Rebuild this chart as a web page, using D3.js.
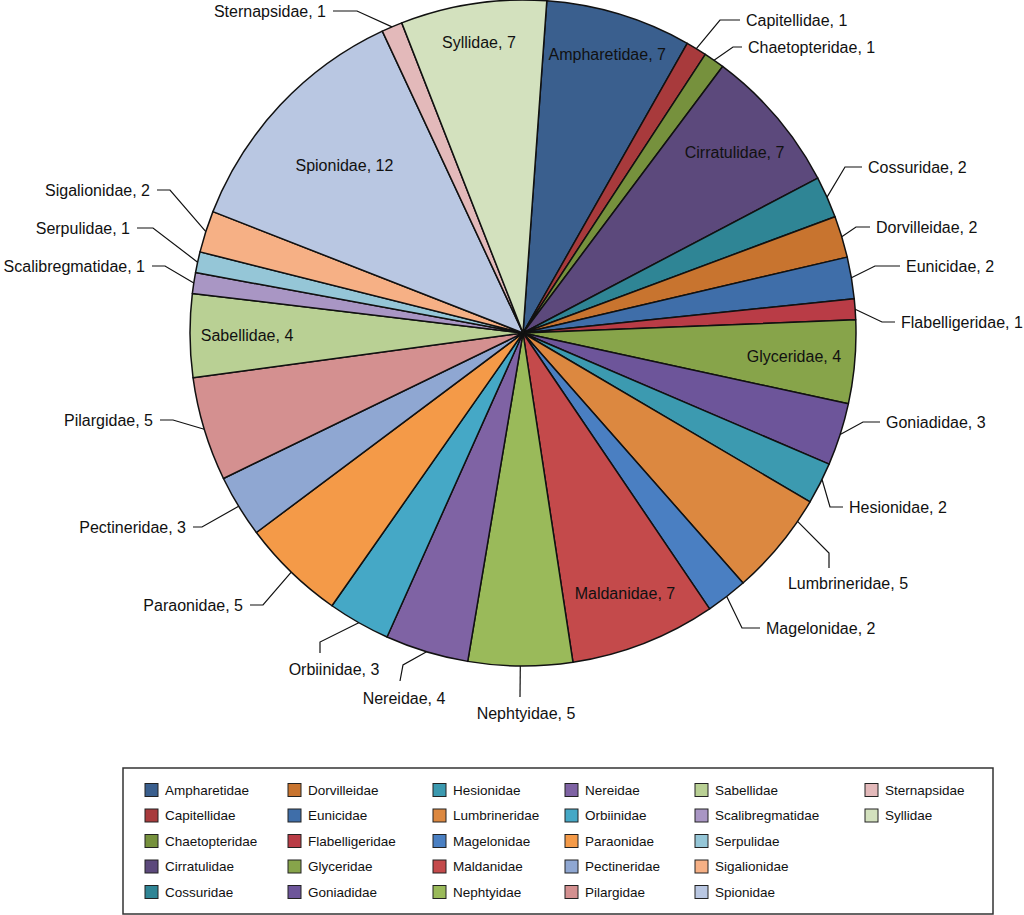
<!DOCTYPE html>
<html>
<head>
<meta charset="utf-8">
<script src="https://cdn.jsdelivr.net/npm/d3@7"></script>
<style>
  html, body { margin: 0; padding: 0; background: #fff; }
  svg { display: block; font-family: "Liberation Sans", Arial, Helvetica, sans-serif; }
</style>
</head>
<body>
<svg id="chart" width="1024" height="915"></svg>
<script>
// ---- Data ----
const families = ["Ampharetidae","Capitellidae","Chaetopteridae","Cirratulidae","Cossuridae",
  "Dorvilleidae","Eunicidae","Flabelligeridae","Glyceridae","Goniadidae",
  "Hesionidae","Lumbrineridae","Magelonidae","Maldanidae","Nephtyidae",
  "Nereidae","Orbiinidae","Paraonidae","Pectineridae","Pilargidae",
  "Sabellidae","Scalibregmatidae","Serpulidae","Sigalionidae","Spionidae",
  "Sternapsidae","Syllidae"];
const counts = [7,1,1,7,2, 2,2,1,4,3, 2,5,2,7,5, 4,3,5,3,5, 4,1,1,2,12, 1,7];
const colors = ["#3a5f8e","#a83a3c","#76913d","#5c497c","#2f8595",
  "#c8742f","#3f6ea9","#b93c46","#87a44a","#6d559a",
  "#3c9ab0","#dc8840","#4a7fc2","#c44a4b","#9aba5a",
  "#7f63a4","#45a8c6","#f49a48","#8fa7d2","#d49090",
  "#b9d094","#a996c4","#95c6d7","#f6b085","#b9c7e2",
  "#e3b9ba","#d3e1be"];

// ---- Layout (annotation placement, not data) ----
const W = 1024, H = 915;
const cx = 523, cy = 333, R = 333;
const startOffset = 4.1 * Math.PI / 180;
const insideLabels = { // radius of label centre
  "Ampharetidae": 291, "Cirratulidae": 278, "Glyceridae": 272, "Maldanidae": 280,
  "Sabellidae": 276, "Spionidae": 245, "Syllidae": 294
};
// side: r = text to the right, l = text to the left, b = text below
// at = fraction along the slice where the leader starts (default 0.5)
const outsideLabels = {
  "Capitellidae":     {side:"r", elbow:[720,20],  end:[740,20]},
  "Chaetopteridae":   {side:"r", elbow:[733,47],  end:[742,47]},
  "Cossuridae":       {side:"r", elbow:[845,167], end:[862,167]},
  "Dorvilleidae":     {side:"r", elbow:[856,227], end:[870,227]},
  "Eunicidae":        {side:"r", elbow:[875,266], end:[900,266]},
  "Flabelligeridae":  {side:"r", elbow:[882,322], end:[895,322]},
  "Goniadidae":       {side:"r", elbow:[863,422], end:[880,422]},
  "Hesionidae":       {side:"r", elbow:[830,507], end:[843,507], at:0.4},
  "Lumbrineridae":    {side:"b", elbow:[829,553], end:[829,568], text:[848,583], at:0.22},
  "Magelonidae":      {side:"r", elbow:[742,628], end:[760,628]},
  "Nephtyidae":       {side:"b", elbow:null,      end:[520,697], text:[526,713]},
  "Nereidae":         {side:"b", elbow:[403,665], end:[400,681], text:[404,698]},
  "Orbiinidae":       {side:"b", elbow:[320,642], end:[320,653], text:[334,669]},
  "Paraonidae":       {side:"l", elbow:[263,605], end:[250,605]},
  "Pectineridae":     {side:"l", elbow:[202,527], end:[193,527]},
  "Pilargidae":       {side:"l", elbow:[173,420], end:[160,420]},
  "Scalibregmatidae": {side:"l", elbow:[165,266], end:[152,266]},
  "Serpulidae":       {side:"l", elbow:[153,228], end:[137,228]},
  "Sigalionidae":     {side:"l", elbow:[170,190], end:[157,190]},
  "Sternapsidae":     {side:"l", elbow:[357,11],  end:[333,11]}
};
const legendBox = {x:123, y:768, w:870, h:146};
const legendColX = [145, 288, 433, 565, 695, 865];
const legendRowY0 = 790, legendRowStep = 25.5, legendRows = 5;

// ---- Build ----
const data = families.map((f, i) => ({name: f, value: counts[i], color: colors[i]}));
const svg = d3.select("#chart");

const pie = d3.pie().sort(null).value(d => d.value)
  .startAngle(startOffset).endAngle(startOffset + 2 * Math.PI);
const arcs = pie(data);
const arc = d3.arc().innerRadius(0).outerRadius(R);

const g = svg.append("g").attr("transform", `translate(${cx},${cy})`);
g.selectAll("path.slice").data(arcs).join("path")
  .attr("class", "slice")
  .attr("d", arc)
  .attr("fill", d => d.data.color)
  .attr("stroke", "#111")
  .attr("stroke-width", 1.5)
  .attr("stroke-linejoin", "round");

// inside labels
arcs.filter(d => insideLabels[d.data.name] !== undefined).forEach(d => {
  const r = insideLabels[d.data.name];
  const c = d3.arc().innerRadius(r).outerRadius(r).centroid(d);
  g.append("text")
    .attr("x", c[0]).attr("y", c[1])
    .attr("text-anchor", "middle")
    .attr("dominant-baseline", "central")
    .attr("font-size", 16)
    .attr("fill", "#111")
    .text(`${d.data.name}, ${d.data.value}`);
});

// outside labels with leader lines
const lg = svg.append("g");
arcs.filter(d => outsideLabels[d.data.name]).forEach(d => {
  const L = outsideLabels[d.data.name];
  const f = L.at === undefined ? 0.5 : L.at;
  const a = d.startAngle + f * (d.endAngle - d.startAngle);
  const s = [cx + R * Math.sin(a), cy - R * Math.cos(a)];
  const pts = [s];
  if (L.elbow) pts.push(L.elbow);
  pts.push(L.end);
  lg.append("path")
    .attr("d", d3.line()(pts))
    .attr("fill", "none")
    .attr("stroke", "#111")
    .attr("stroke-width", 1.2);
  const t = lg.append("text")
    .attr("font-size", 16)
    .attr("fill", "#111")
    .attr("dominant-baseline", "central")
    .text(`${d.data.name}, ${d.data.value}`);
  if (L.side === "r") {
    t.attr("x", L.end[0] + 6).attr("y", L.end[1]).attr("text-anchor", "start");
  } else if (L.side === "l") {
    t.attr("x", L.end[0] - 7).attr("y", L.end[1]).attr("text-anchor", "end");
  } else {
    t.attr("x", L.text[0]).attr("y", L.text[1]).attr("text-anchor", "middle");
  }
});

// legend
svg.append("rect")
  .attr("x", legendBox.x).attr("y", legendBox.y)
  .attr("width", legendBox.w).attr("height", legendBox.h)
  .attr("fill", "#fff").attr("stroke", "#333").attr("stroke-width", 1.5);

const items = svg.append("g").selectAll("g").data(data).join("g")
  .attr("transform", (d, i) => {
    const col = Math.floor(i / legendRows), row = i % legendRows;
    return `translate(${legendColX[col]},${legendRowY0 + row * legendRowStep})`;
  });
items.append("rect")
  .attr("x", 0).attr("y", -6.5).attr("width", 13).attr("height", 13)
  .attr("fill", d => d.color).attr("stroke", "#222").attr("stroke-width", 1);
items.append("text")
  .attr("x", 20).attr("y", 0)
  .attr("dominant-baseline", "central")
  .attr("font-size", 13.5)
  .attr("fill", "#111")
  .text(d => d.name);
</script>
</body>
</html>
